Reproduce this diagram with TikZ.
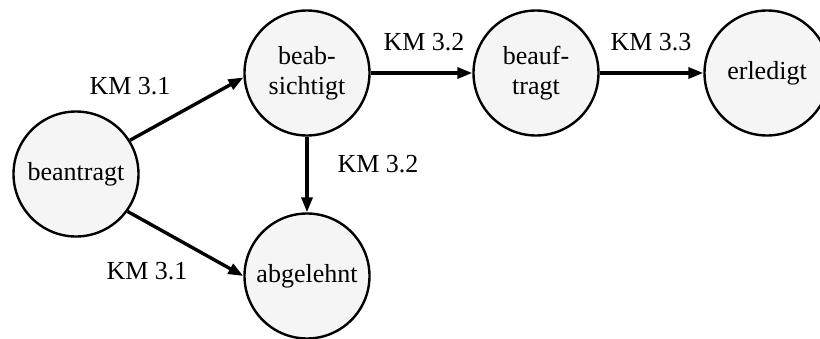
\documentclass[tikz,border=0pt]{standalone}
\usepackage{fontspec}
\setmainfont{Liberation Serif}
\usetikzlibrary{arrows.meta}
\begin{document}
\begin{tikzpicture}[x=1pt,y=-1pt,
  state/.style={circle,draw=black,line width=2.4pt,fill={rgb,255:red,245;green,245;blue,245},
    minimum size=125pt,inner sep=0pt,align=center,font=\fontsize{26}{30}\selectfont},
  trans/.style={line width=3.4pt,-{Triangle[length=15pt,width=11pt]}},
  lbl/.style={font=\fontsize{26}{30}\selectfont,inner sep=0pt}]
\useasboundingbox (0,0) rectangle (820,338);
\node[state] (bt) at (76,174) {beantragt};
\node[state] (bs) at (307,73) {beab-\\sichtigt};
\node[state] (ag) at (307,276) {abgelehnt};
\node[state] (bf) at (536,73) {beauf-\\tragt};
\node[state] (er) at (767,73) {erledigt};
\draw[trans] (bt.32) -- (bs.184);
\draw[trans] (bt.-36) -- (ag.west);
\draw[trans] (bs.south) -- (ag.north);
\draw[trans] (bs.east) -- (bf.west);
\draw[trans] (bf.east) -- (er.west);
\node[lbl] (l1) at (130,86) {KM 3.1};
\node[lbl] (l2) at (147,271) {KM 3.1};
\node[lbl] (l3) at (378,164) {KM 3.2};
\node[lbl] (l4) at (424,42) {KM 3.2};
\node[lbl] (l5) at (651,42) {KM 3.3};
\end{tikzpicture}
\end{document}
